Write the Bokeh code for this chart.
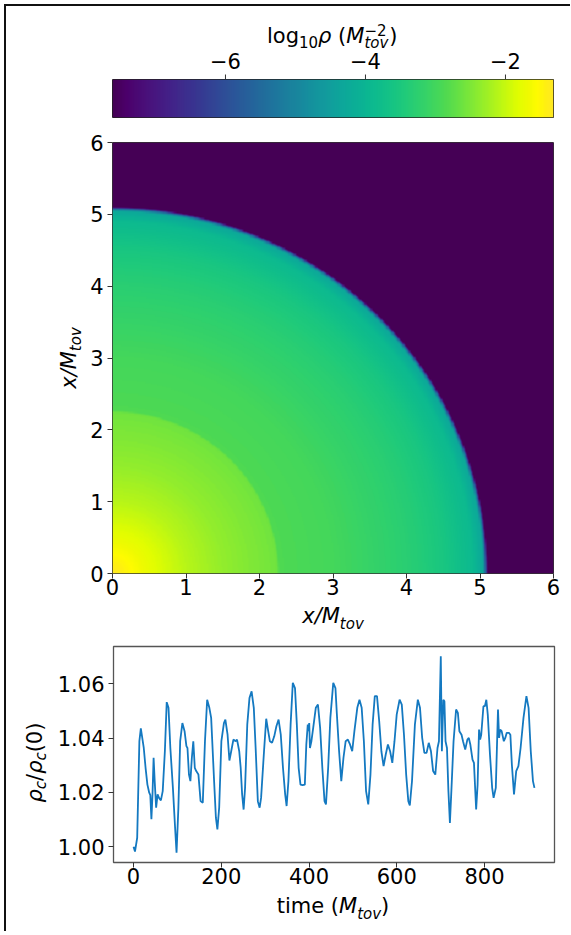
import colorsys
import numpy as np
from bokeh.plotting import figure
from bokeh.layouts import column, row
from bokeh.models import LinearColorMapper, FixedTicker, NumeralTickFormatter, Range1d
from bokeh.core.properties import value
from bokeh.palettes import Viridis256
from bokeh.embed import file_html
from bokeh.resources import INLINE

# ---------------- data ----------------
# radial profile of log10(rho) read from the map (r in M_tov)
profile_r = [0.0, 0.5, 1.0, 1.5, 2.0, 2.24, 2.27, 3.0, 4.0, 4.5, 4.9, 5.04, 5.075, 5.10, 9.0]
profile_logrho = [-1.314, -1.75, -2.1, -2.35, -2.52, -2.6, -2.88, -2.98, -3.3, -3.55, -3.9, -4.3, -5.6, -7.614, -7.614]
map_extent = 6.0
map_ticks = [0, 1, 2, 3, 4, 5, 6]
cbar_ticks = [-6, -4, -2]
cbar_labels = ["\u22126", "\u22124", "\u22122"]

time = [0, 3.3, 8.3, 13.3, 16.6, 23.3, 27.4, 31.6, 35.7, 38.2, 40.7, 43.2, 45.7, 48.2, 51.5, 54.8, 58.1, 62.3, 66.5, 71.4,
        75.6, 79.7, 83.9, 89.7, 94.7, 98.0, 102.2, 106.3, 111.3, 116.3, 120.5, 122.9, 126.3, 129.6, 132.9, 136.2, 139.6, 142.9,
        147.9, 152.8, 157.8, 162.8, 167.8, 172.8, 176.9, 179.4, 183.6, 187.7, 191.1, 195.2, 200.2, 206.0, 209.3, 214.3, 218.5,
        222.6, 227.6, 232.6, 235.9, 240.9, 244.2, 247.5, 250.9, 254.2, 259.2, 264.2, 269.1, 274.1, 278.3, 283.3, 287.4, 290.7,
        297.4, 302.4, 305.7, 310.7, 315.7, 320.7, 325.6, 330.6, 335.6, 340.6, 345.6, 348.9, 353.0, 358.0, 363.0, 368.0, 372.2,
        376.3, 380.5, 385.4, 390.4, 393.8, 397.1, 398.7, 400.4, 402.1, 405.4, 409.5, 415.4, 420.3, 425.3, 430.3, 435.3, 438.6,
        443.6, 448.6, 455.2, 460.2, 463.5, 468.5, 473.5, 478.5, 483.5, 488.5, 493.4, 498.4, 503.4, 510.0, 515.0, 520.0, 525.0,
        530.0, 535.0, 540.0, 544.9, 549.9, 554.9, 559.9, 564.9, 569.9, 574.8, 579.8, 584.8, 589.8, 594.8, 599.8, 606.4, 611.4,
        616.4, 621.4, 626.3, 629.7, 634.7, 641.3, 648.0, 652.9, 657.9, 662.9, 667.9, 672.9, 677.9, 682.8, 687.8, 692.8, 696.1,
        700.3, 702.8, 706.1, 708.6, 711.1, 714.4, 717.7, 721.1, 724.4, 729.4, 735.2, 739.3, 742.7, 747.6, 751.0, 756.0, 760.9,
        764.2, 767.6, 772.6, 775.9, 780.9, 784.2, 787.5, 790.0, 792.5, 797.5, 800.8, 804.1, 807.4, 812.4, 817.4, 820.7, 825.7,
        830.7, 833.2, 835.7, 839.0, 844.0, 847.3, 850.6, 855.6, 858.9, 862.3, 867.2, 872.2, 877.2, 882.2, 888.8, 895.5, 900.4,
        905.4, 910.4, 913.8]
rho_ratio = [1.0000, 0.9982, 1.0033, 1.0389, 1.0436, 1.0364, 1.0291, 1.0229, 1.0199, 1.0190, 1.0101, 1.0193, 1.0328, 1.0242,
             1.0144, 1.0193, 1.0180, 1.0171, 1.0205, 1.0352, 1.0533, 1.0512, 1.0364, 1.0217, 1.0070, 0.9978, 1.0144, 1.0389,
             1.0456, 1.0426, 1.0371, 1.0364, 1.0266, 1.0242, 1.0328, 1.0389, 1.0291, 1.0279, 1.0266, 1.0168, 1.0162, 1.0389,
             1.0542, 1.0512, 1.0475, 1.0389, 1.0242, 1.0107, 1.0064, 1.0144, 1.0389, 1.0456, 1.0469, 1.0413, 1.0318, 1.0352,
             1.0395, 1.0389, 1.0395, 1.0352, 1.0291, 1.0193, 1.0137, 1.0217, 1.0450, 1.0548, 1.0573, 1.0512, 1.0364, 1.0168,
             1.0144, 1.0180, 1.0352, 1.0472, 1.0438, 1.0389, 1.0383, 1.0407, 1.0444, 1.0469, 1.0413, 1.0291, 1.0193, 1.0150,
             1.0242, 1.0450, 1.0604, 1.0585, 1.0450, 1.0291, 1.0229, 1.0227, 1.0229, 1.0377, 1.0450, 1.0426, 1.0456, 1.0364,
             1.0389, 1.0438, 1.0512, 1.0524, 1.0438, 1.0291, 1.0168, 1.0156, 1.0291, 1.0475, 1.0604, 1.0585, 1.0487, 1.0352,
             1.0242, 1.0328, 1.0389, 1.0395, 1.0377, 1.0352, 1.0426, 1.0512, 1.0542, 1.0512, 1.0389, 1.0205, 1.0156, 1.0266,
             1.0450, 1.0555, 1.0555, 1.0463, 1.0352, 1.0297, 1.0340, 1.0377, 1.0352, 1.0309, 1.0389, 1.0487, 1.0542, 1.0524,
             1.0413, 1.0266, 1.0168, 1.0152, 1.0242, 1.0450, 1.0542, 1.0512, 1.0401, 1.0346, 1.0346, 1.0383, 1.0352, 1.0279,
             1.0266, 1.0364, 1.0389, 1.0702, 1.0352, 1.0542, 1.0536, 1.0389, 1.0364, 1.0205, 1.0088, 1.0205, 1.0389, 1.0506,
             1.0493, 1.0426, 1.0413, 1.0389, 1.0358, 1.0395, 1.0401, 1.0377, 1.0321, 1.0309, 1.0137, 1.0229, 1.0432, 1.0395,
             1.0413, 1.0518, 1.0518, 1.0542, 1.0487, 1.0340, 1.0217, 1.0180, 1.0217, 1.0506, 1.0401, 1.0432, 1.0426, 1.0389,
             1.0401, 1.0420, 1.0420, 1.0413, 1.0303, 1.0193, 1.0279, 1.0297, 1.0364, 1.0475, 1.0555, 1.0512, 1.0352, 1.0242,
             1.0217]
time_ticks = [0, 200, 400, 600, 800]
ratio_ticks = [1.00, 1.02, 1.04, 1.06]

# ---------------- style / layout ----------------
FONT = "DejaVu Sans"
S = 21      # main font px
SS = 15     # script font px
MID = 0.346  # (ascent - descent) / 2 in em: baseline -> middle
FW = 441    # frame width of every panel
LEFT, RIGHT = 106, 18
LINE_COLOR = "#1479c1"


def vivid(hex_color, k=1.3):
    r, g, b = (int(hex_color[i:i + 2], 16) / 255 for i in (1, 3, 5))
    h, l, s = colorsys.rgb_to_hls(r, g, b)
    r, g, b = colorsys.hls_to_rgb(h, l, min(1.0, s * k))
    return "#%02x%02x%02x" % (round(r * 255), round(g * 255), round(b * 255))


palette = [vivid(c) for c in Viridis256]
vmin, vmax = min(profile_logrho), max(profile_logrho)
mapper = LinearColorMapper(palette=palette, low=vmin, high=vmax)


def make_fig(xr, yr, fh, left, top, bottom, right=RIGHT, **kw):
    p = figure(x_range=xr, y_range=yr, frame_width=FW, frame_height=fh,
               min_border_left=left, min_border_right=right,
               min_border_top=top, min_border_bottom=bottom,
               toolbar_location=None, tools="", output_backend="svg", title=None, **kw)
    p.grid.visible = False
    p.background_fill_color = "white"
    p.border_fill_color = "white"
    p.outline_line_color = "#333333"
    p.outline_line_width = 1
    return p


def label_fig(w, h, xr=None, left=0, right=0, top=0, bottom=0):
    p = figure(x_range=xr if xr is not None else Range1d(0, w), y_range=Range1d(0, h),
               frame_width=w, frame_height=h,
               min_border_left=left, min_border_right=right, min_border_top=top, min_border_bottom=bottom,
               x_axis_location=None, y_axis_location=None,
               toolbar_location=None, tools="", output_backend="svg", title=None)
    p.grid.visible = False
    p.outline_line_color = None
    p.background_fill_color = "white"
    p.border_fill_color = "white"
    return p


def style_axis(ax, standoff=4):
    ax.major_label_text_font = FONT
    ax.major_label_text_font_size = f"{S}px"
    ax.major_label_text_color = "black"
    ax.minor_tick_line_color = None
    ax.major_tick_in = 0
    ax.major_tick_out = 5
    ax.major_tick_line_color = "#333333"
    ax.axis_line_color = None
    ax.major_label_standoff = standoff


def hpiece(p, x, baseline, text, size, width, italic=False, x_offset=0.0):
    """horizontal text piece whose left edge is x_offset px from anchor x"""
    p.text(x=[x], y=[baseline + MID * size], text=[text], x_offset=x_offset + width / 2,
           text_font=value(FONT), text_font_size=f"{size}px",
           text_font_style="italic" if italic else "normal",
           text_color="black", text_align="center", text_baseline="middle")


def vpiece(p, baseline_x, start_y, text, size, width, italic=False):
    """text rotated 90 deg (reads bottom to top)"""
    p.text(x=[baseline_x - MID * size], y=[start_y + width / 2], text=[text], angle=np.pi / 2,
           text_font=value(FONT), text_font_size=f"{size}px",
           text_font_style="italic" if italic else "normal",
           text_color="black", text_align="center", text_baseline="middle")


# ---------------- colour bar title + ticks (panel in colour-bar units) ----------------
CT_H = 73
ct = label_fig(FW, CT_H, xr=Range1d(vmin, vmax), left=LEFT, right=RIGHT)
ct.segment(x0=cbar_ticks, y0=0, x1=cbar_ticks, y1=5, line_color="#333333", line_width=1)
ct.text(x=cbar_ticks, y=19, text=cbar_labels, text_font=value(FONT), text_font_size=f"{S}px",
        text_color="black", text_align="center", text_baseline="middle")
xc = (vmin + vmax) / 2
L0 = -66.0
hpiece(ct, xc, 36, "log", S, 32.0, x_offset=L0)
hpiece(ct, xc, 32, "10", SS, 19.1, x_offset=L0 + 32.0)
hpiece(ct, xc, 36, "\u03c1", S, 13.3, italic=True, x_offset=L0 + 51.1)
hpiece(ct, xc, 36, "(", S, 8.2, x_offset=L0 + 71.1)
hpiece(ct, xc, 36, "M", S, 18.1, italic=True, x_offset=L0 + 79.3)
hpiece(ct, xc, 44, "\u22122", SS, 22.1, x_offset=L0 + 97.4)
hpiece(ct, xc, 31, "tov", SS, 23.9, italic=True, x_offset=L0 + 97.4)
hpiece(ct, xc, 36, ")", S, 8.2, x_offset=L0 + 122.3)

# ---------------- colour bar ----------------
CB_H = 38
cb = make_fig(Range1d(vmin, vmax), Range1d(0, 1), CB_H, LEFT, 0, 13,
              x_axis_location=None, y_axis_location=None)
cb.outline_line_color = "#222222"
cb.image(image=[np.linspace(vmin, vmax, 512)[None, :]], x=vmin, y=0, dw=vmax - vmin, dh=1,
         color_mapper=mapper)

# ---------------- density map ----------------
HM_H = 431
HY_W = 80
hm = make_fig(Range1d(0, map_extent), Range1d(0, map_extent), HM_H, LEFT - HY_W, 12, 30)
n = 360
g = (np.arange(n) + 0.5) * map_extent / n
X, Y = np.meshgrid(g, g)
field = np.interp(np.hypot(X, Y), profile_r, profile_logrho)
hm.image(image=[field], x=0, y=0, dw=map_extent, dh=map_extent, color_mapper=mapper)
hm.xaxis.ticker = FixedTicker(ticks=map_ticks)
hm.yaxis.ticker = FixedTicker(ticks=map_ticks)
style_axis(hm.xaxis[0], standoff=0)
style_axis(hm.yaxis[0], standoff=4)

hy = label_fig(HY_W, HM_H, top=12, bottom=30)
ys = HM_H / 2 - 30.75
vpiece(hy, 70, ys, "x/M", S, 37.6, italic=True)
vpiece(hy, 75, ys + 37.6, "tov", SS, 23.9, italic=True)

hx = label_fig(FW, 30, xr=Range1d(0, map_extent), left=LEFT, right=RIGHT)
hpiece(hx, map_extent / 2, 10, "x/M", S, 37.6, italic=True, x_offset=-30.75)
hpiece(hx, map_extent / 2, 4, "tov", SS, 23.9, italic=True, x_offset=-30.75 + 37.6)

# ---------------- central density vs time ----------------
TS_H = 216
TY_W = 48
tmin, tmax = min(time), max(time)
rmin, rmax = min(rho_ratio), max(rho_ratio)
tpad = 0.05 * (tmax - tmin)
rpad = 0.05 * (rmax - rmin)
t_range = Range1d(tmin - tpad, tmax + tpad)
ts = make_fig(t_range, Range1d(rmin - rpad, rmax + rpad), TS_H, LEFT - TY_W, 13, 30)
ts.outline_line_color = "#555555"
ts.outline_line_width = 1.3
ts.line(time, rho_ratio, line_width=1.8, color=LINE_COLOR)
ts.xaxis.ticker = FixedTicker(ticks=time_ticks)
ts.yaxis.ticker = FixedTicker(ticks=ratio_ticks)
ts.yaxis.formatter = NumeralTickFormatter(format="0.00")
style_axis(ts.xaxis[0], standoff=0)
style_axis(ts.yaxis[0], standoff=4)

ty = label_fig(TY_W, TS_H, top=13, bottom=30)
segs = [("\u03c1", S, True, 0, 13.3), ("c", SS, True, 1, 8.25), ("/", S, False, 0, 7.1),
        ("\u03c1", S, True, 0, 13.3), ("c", SS, True, 1, 8.25), ("(0)", S, False, 0, 29.7)]
pos = 60
for txt, sz, it, sub, adv in segs:
    vpiece(ty, 36 + 4 * sub, pos, txt, sz, adv, italic=it)
    pos += adv

TX_H = 41
tx = label_fig(FW, TX_H, xr=Range1d(tmin - tpad, tmax + tpad), left=LEFT, right=RIGHT)
tmid = (tmin + tmax) / 2
xs = -56.25
hpiece(tx, tmid, TX_H - 21, "time (", S, 62.3, x_offset=xs)
hpiece(tx, tmid, TX_H - 21, "M", S, 18.1, italic=True, x_offset=xs + 62.3)
hpiece(tx, tmid, TX_H - 27, "tov", SS, 23.9, italic=True, x_offset=xs + 80.4)
hpiece(tx, tmid, TX_H - 21, ")", S, 8.2, x_offset=xs + 104.3)

layout = column(ct, cb, row(hy, hm), hx, row(ty, ts), tx,
                margin=(6, 0, 0, 6), styles={"box-shadow": "-2px -2px 0 0 #111111"})
open("out.html", "w").write(file_html(layout, INLINE))
